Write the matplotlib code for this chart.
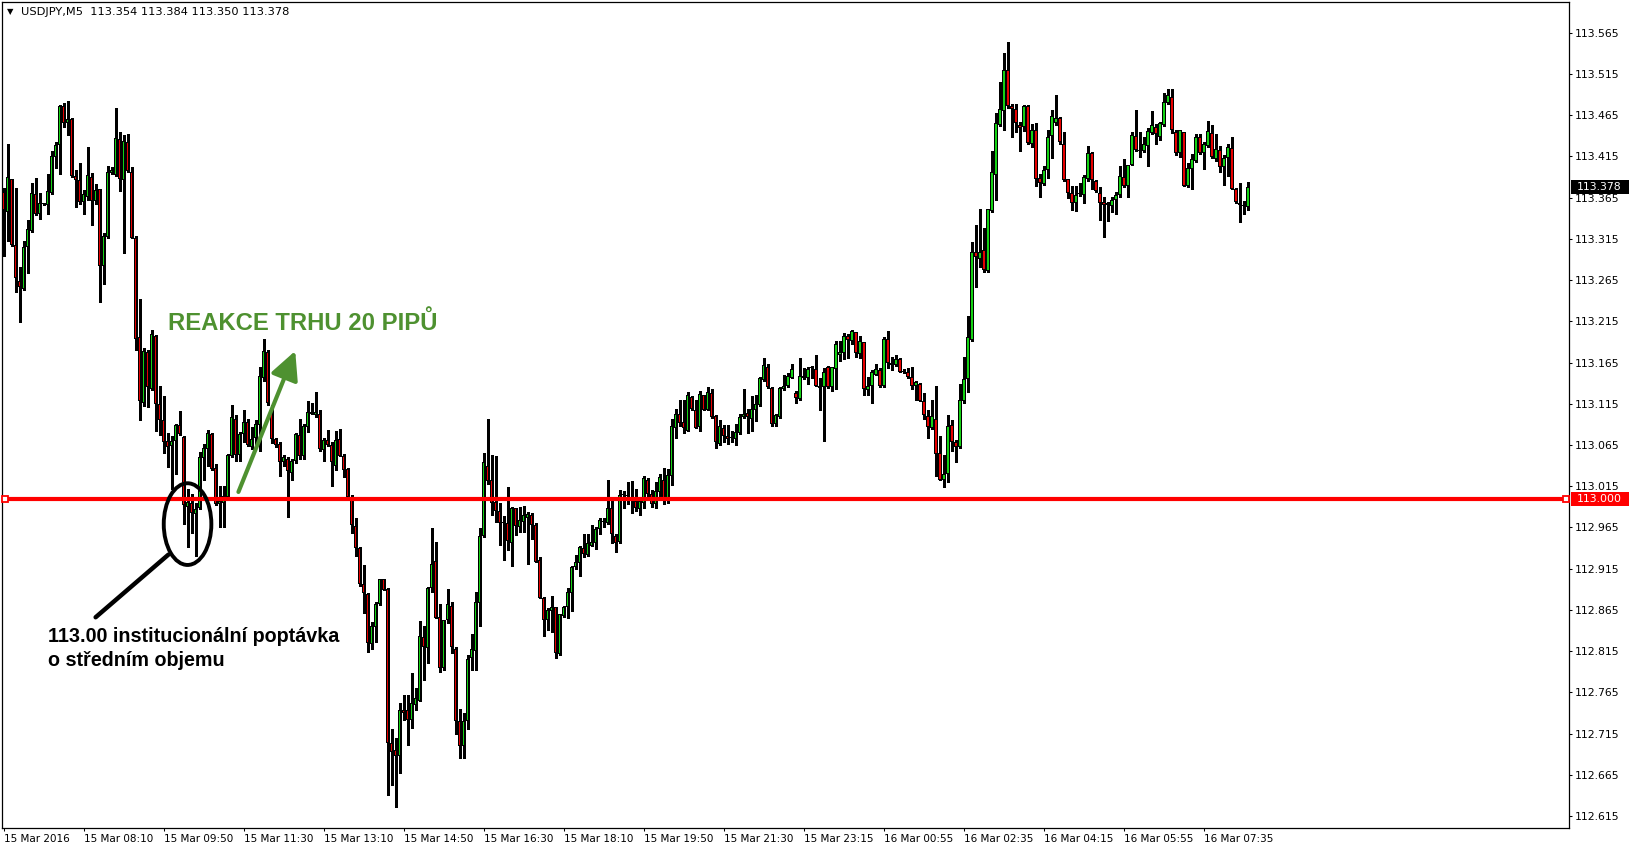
import numpy as np
import matplotlib.pyplot as plt
from matplotlib.patches import Ellipse, Rectangle
from matplotlib.transforms import blended_transform_factory

# USDJPY M5 candles, 15 Mar 2016 06:30 -> 16 Mar 2016

open_ = [
    113.372, 113.347, 113.387, 113.307, 113.264, 113.254, 113.305, 113.324, 113.369, 113.345,
    113.357, 113.356, 113.370, 113.414, 113.429, 113.476, 113.455, 113.460, 113.391, 113.386,
    113.360, 113.366, 113.390, 113.361, 113.375, 113.282, 113.317, 113.395, 113.392, 113.436,
    113.386, 113.432, 113.396, 113.316, 113.196, 113.116, 113.178, 113.133, 113.197, 113.115,
    113.095, 113.070, 113.064, 113.070, 113.089, 113.075, 112.990, 112.994, 112.981, 112.988,
    113.049, 113.060, 113.078, 113.037, 112.993, 112.994, 113.002, 113.051, 113.096, 113.053,
    113.078, 113.093, 113.062, 113.073, 113.089, 113.146, 113.178, 113.106, 113.072, 113.066,
    113.044, 113.048, 113.031, 113.045, 113.077, 113.052, 113.087, 113.103, 113.101, 113.103,
    113.059, 113.071, 113.065, 113.040, 113.072, 113.052, 113.036, 113.002, 112.967, 112.940,
    112.896, 112.884, 112.824, 112.844, 112.872, 112.902, 112.890, 112.703, 112.695, 112.688,
    112.743, 112.743, 112.731, 112.750, 112.755, 112.832, 112.819, 112.891, 112.924, 112.856,
    112.794, 112.853, 112.870, 112.818, 112.730, 112.700, 112.730, 112.806, 112.815, 112.873,
    112.955, 113.040, 113.023, 112.996, 112.985, 112.972, 112.970, 112.946, 112.989, 112.965,
    112.972, 112.976, 112.980, 112.968, 112.926, 112.879, 112.853, 112.864, 112.868, 112.811,
    112.857, 112.868, 112.885, 112.917, 112.922, 112.940, 112.932, 112.943, 112.946, 112.963,
    112.972, 112.970, 112.989, 112.955, 112.947, 113.005, 113.004, 113.002, 112.997, 112.987,
    112.995, 113.023, 113.006, 112.993, 113.008, 113.023, 112.997, 113.027, 113.086, 113.103,
    113.093, 113.082, 113.123, 113.107, 113.087, 113.125, 113.107, 113.128, 113.100, 113.066,
    113.086, 113.076, 113.074, 113.072, 113.079, 113.099, 113.104, 113.097, 113.107, 113.113,
    113.144, 113.159, 113.134, 113.090, 113.099, 113.133, 113.136, 113.146, 113.128, 113.121,
    113.149, 113.146, 113.158, 113.157, 113.137, 113.135, 113.159, 113.135, 113.157, 113.174,
    113.177, 113.197, 113.191, 113.202, 113.175, 113.190, 113.132, 113.137, 113.150, 113.156,
    113.136, 113.193, 113.165, 113.162, 113.169, 113.154, 113.154, 113.147, 113.137, 113.139,
    113.118, 113.100, 113.085, 113.097, 113.055, 113.023, 113.030, 113.089, 113.068, 113.063,
    113.118, 113.145, 113.192, 113.299, 113.291, 113.301, 113.276, 113.349, 113.393, 113.453,
    113.470, 113.520, 113.476, 113.472, 113.453, 113.451, 113.476, 113.430, 113.447, 113.389,
    113.381, 113.398, 113.440, 113.456, 113.462, 113.430, 113.387, 113.370, 113.359, 113.370,
    113.368, 113.387, 113.419, 113.385, 113.371, 113.360, 113.358, 113.355, 113.362, 113.368,
    113.390, 113.379, 113.404, 113.440, 113.422, 113.421, 113.427, 113.443, 113.451, 113.439,
    113.453, 113.480, 113.487, 113.445, 113.419, 113.445, 113.379, 113.400, 113.409, 113.438,
    113.419, 113.427, 113.443, 113.412, 113.423, 113.402, 113.413, 113.425, 113.375, 113.358,
    113.356, 113.354,
]

high = [
    113.377, 113.430, 113.388, 113.377, 113.281, 113.312, 113.338, 113.383, 113.389, 113.370,
    113.359, 113.394, 113.421, 113.432, 113.477, 113.480, 113.482, 113.461, 113.398, 113.407,
    113.374, 113.426, 113.395, 113.382, 113.376, 113.322, 113.403, 113.402, 113.474, 113.444,
    113.441, 113.442, 113.402, 113.319, 113.242, 113.183, 113.180, 113.204, 113.198, 113.136,
    113.124, 113.080, 113.076, 113.091, 113.106, 113.076, 113.012, 113.006, 112.994, 113.057,
    113.066, 113.083, 113.080, 113.042, 113.015, 113.015, 113.054, 113.114, 113.101, 113.081,
    113.108, 113.096, 113.087, 113.095, 113.160, 113.194, 113.180, 113.114, 113.074, 113.069,
    113.053, 113.050, 113.048, 113.079, 113.097, 113.091, 113.118, 113.116, 113.129, 113.107,
    113.073, 113.083, 113.068, 113.082, 113.084, 113.054, 113.037, 113.004, 112.977, 112.941,
    112.919, 112.885, 112.850, 112.875, 112.903, 112.903, 112.891, 112.720, 112.710, 112.752,
    112.762, 112.762, 112.789, 112.770, 112.851, 112.845, 112.893, 112.964, 112.947, 112.872,
    112.853, 112.890, 112.874, 112.820, 112.745, 112.740, 112.810, 112.836, 112.887, 112.964,
    113.055, 113.096, 113.053, 113.052, 112.995, 112.979, 113.014, 112.990, 112.989, 112.990,
    112.991, 112.984, 112.982, 112.970, 112.929, 112.881, 112.867, 112.882, 112.869, 112.860,
    112.870, 112.891, 112.918, 112.932, 112.943, 112.957, 112.957, 112.968, 112.966, 112.977,
    112.976, 113.023, 112.998, 112.957, 113.010, 113.009, 113.020, 113.021, 113.011, 113.000,
    113.027, 113.025, 113.010, 113.020, 113.030, 113.037, 113.036, 113.097, 113.109, 113.120,
    113.120, 113.129, 113.124, 113.120, 113.130, 113.126, 113.135, 113.133, 113.101, 113.095,
    113.089, 113.089, 113.082, 113.090, 113.102, 113.133, 113.109, 113.124, 113.125, 113.147,
    113.171, 113.163, 113.135, 113.102, 113.135, 113.150, 113.152, 113.163, 113.130, 113.170,
    113.158, 113.159, 113.161, 113.174, 113.146, 113.158, 113.161, 113.160, 113.191, 113.191,
    113.201, 113.200, 113.205, 113.202, 113.197, 113.190, 113.147, 113.156, 113.163, 113.158,
    113.196, 113.203, 113.172, 113.174, 113.171, 113.157, 113.158, 113.159, 113.142, 113.140,
    113.128, 113.107, 113.120, 113.137, 113.076, 113.053, 113.101, 113.095, 113.071, 113.139,
    113.172, 113.222, 113.311, 113.332, 113.351, 113.328, 113.351, 113.421, 113.468, 113.505,
    113.540, 113.554, 113.479, 113.479, 113.457, 113.477, 113.477, 113.454, 113.455, 113.394,
    113.403, 113.447, 113.471, 113.490, 113.463, 113.445, 113.388, 113.379, 113.379, 113.383,
    113.392, 113.428, 113.420, 113.386, 113.378, 113.366, 113.360, 113.366, 113.372, 113.403,
    113.412, 113.405, 113.445, 113.471, 113.445, 113.438, 113.449, 113.470, 113.454, 113.457,
    113.492, 113.497, 113.497, 113.447, 113.447, 113.445, 113.407, 113.418, 113.442, 113.442,
    113.432, 113.458, 113.453, 113.442, 113.428, 113.417, 113.430, 113.438, 113.377, 113.383,
    113.361, 113.384,
]

low = [
    113.294, 113.312, 113.306, 113.250, 113.214, 113.253, 113.273, 113.323, 113.344, 113.339,
    113.356, 113.345, 113.369, 113.401, 113.394, 113.451, 113.441, 113.390, 113.354, 113.357,
    113.345, 113.362, 113.332, 113.357, 113.238, 113.260, 113.316, 113.394, 113.391, 113.373,
    113.298, 113.396, 113.316, 113.180, 113.095, 113.112, 113.111, 113.132, 113.082, 113.077,
    113.055, 113.038, 113.011, 113.030, 113.077, 112.969, 112.941, 112.958, 112.930, 112.987,
    113.023, 113.040, 113.035, 112.992, 112.965, 112.966, 113.001, 113.050, 113.045, 113.046,
    113.069, 113.064, 113.060, 113.062, 113.058, 113.143, 113.114, 113.067, 113.062, 113.027,
    113.040, 112.978, 113.023, 113.043, 113.048, 113.048, 113.081, 113.103, 113.099, 113.058,
    113.045, 113.064, 113.015, 113.035, 113.051, 113.026, 113.001, 112.958, 112.930, 112.894,
    112.861, 112.814, 112.817, 112.826, 112.871, 112.889, 112.640, 112.652, 112.626, 112.667,
    112.731, 112.701, 112.722, 112.744, 112.754, 112.780, 112.800, 112.887, 112.855, 112.790,
    112.792, 112.849, 112.813, 112.715, 112.685, 112.685, 112.720, 112.792, 112.792, 112.845,
    112.953, 113.018, 112.980, 112.972, 112.944, 112.925, 112.937, 112.918, 112.956, 112.959,
    112.960, 112.921, 112.951, 112.923, 112.879, 112.833, 112.841, 112.838, 112.807, 112.810,
    112.856, 112.855, 112.863, 112.914, 112.906, 112.929, 112.930, 112.942, 112.939, 112.957,
    112.966, 112.969, 112.946, 112.935, 112.946, 112.989, 112.993, 112.983, 112.985, 112.980,
    112.988, 113.003, 112.990, 112.989, 113.000, 112.993, 112.994, 113.017, 113.073, 113.088,
    113.079, 113.082, 113.107, 113.086, 113.082, 113.107, 113.107, 113.098, 113.061, 113.065,
    113.068, 113.066, 113.068, 113.065, 113.078, 113.098, 113.080, 113.082, 113.094, 113.112,
    113.143, 113.134, 113.088, 113.088, 113.098, 113.132, 113.135, 113.146, 113.116, 113.120,
    113.145, 113.139, 113.146, 113.137, 113.108, 113.070, 113.134, 113.130, 113.133, 113.167,
    113.169, 113.171, 113.188, 113.172, 113.171, 113.126, 113.126, 113.116, 113.150, 113.135,
    113.135, 113.158, 113.156, 113.161, 113.153, 113.152, 113.146, 113.133, 113.119, 113.118,
    113.096, 113.074, 113.084, 113.027, 113.022, 113.014, 113.020, 113.058, 113.044, 113.061,
    113.116, 113.129, 113.191, 113.257, 113.281, 113.275, 113.275, 113.348, 113.362, 113.452,
    113.447, 113.474, 113.439, 113.445, 113.421, 113.446, 113.430, 113.426, 113.379, 113.366,
    113.380, 113.389, 113.413, 113.453, 113.430, 113.385, 113.364, 113.350, 113.349, 113.367,
    113.358, 113.385, 113.375, 113.372, 113.338, 113.317, 113.337, 113.347, 113.345, 113.366,
    113.378, 113.366, 113.404, 113.422, 113.414, 113.420, 113.403, 113.442, 113.430, 113.435,
    113.452, 113.479, 113.443, 113.417, 113.414, 113.379, 113.378, 113.376, 113.408, 113.418,
    113.400, 113.426, 113.413, 113.410, 113.396, 113.380, 113.391, 113.375, 113.359, 113.335,
    113.345, 113.350,
]

close = [
    113.350, 113.390, 113.307, 113.267, 113.256, 113.305, 113.327, 113.370, 113.345, 113.359,
    113.357, 113.373, 113.416, 113.429, 113.476, 113.456, 113.460, 113.391, 113.386, 113.360,
    113.369, 113.392, 113.361, 113.374, 113.282, 113.319, 113.396, 113.399, 113.437, 113.387,
    113.434, 113.397, 113.316, 113.194, 113.118, 113.179, 113.135, 113.199, 113.115, 113.095,
    113.069, 113.062, 113.070, 113.089, 113.078, 112.992, 112.996, 112.982, 112.987, 113.050,
    113.061, 113.080, 113.036, 112.993, 112.997, 113.003, 113.053, 113.099, 113.053, 113.078,
    113.093, 113.065, 113.072, 113.091, 113.149, 113.179, 113.116, 113.072, 113.065, 113.044,
    113.050, 113.033, 113.045, 113.078, 113.051, 113.088, 113.105, 113.105, 113.105, 113.060,
    113.071, 113.065, 113.044, 113.071, 113.052, 113.035, 113.002, 112.968, 112.940, 112.896,
    112.886, 112.825, 112.845, 112.872, 112.902, 112.889, 112.703, 112.693, 112.688, 112.743,
    112.740, 112.731, 112.752, 112.758, 112.833, 112.820, 112.891, 112.921, 112.855, 112.794,
    112.853, 112.872, 112.820, 112.730, 112.700, 112.730, 112.805, 112.817, 112.874, 112.955,
    113.044, 113.021, 112.994, 112.985, 112.970, 112.970, 112.948, 112.989, 112.967, 112.974,
    112.980, 112.981, 112.968, 112.923, 112.879, 112.853, 112.865, 112.868, 112.813, 112.860,
    112.868, 112.887, 112.917, 112.923, 112.941, 112.933, 112.946, 112.947, 112.963, 112.974,
    112.971, 112.989, 112.957, 112.946, 113.004, 113.004, 113.003, 112.997, 112.988, 112.997,
    113.025, 113.006, 112.993, 113.009, 113.026, 112.997, 113.028, 113.088, 113.103, 113.092,
    113.085, 113.125, 113.109, 113.086, 113.127, 113.108, 113.129, 113.099, 113.068, 113.088,
    113.076, 113.072, 113.073, 113.081, 113.099, 113.103, 113.099, 113.109, 113.115, 113.146,
    113.162, 113.135, 113.091, 113.101, 113.134, 113.137, 113.149, 113.157, 113.122, 113.149,
    113.146, 113.157, 113.159, 113.137, 113.134, 113.154, 113.135, 113.159, 113.188, 113.178,
    113.197, 113.192, 113.203, 113.176, 113.191, 113.133, 113.137, 113.154, 113.157, 113.136,
    113.193, 113.164, 113.162, 113.169, 113.154, 113.153, 113.148, 113.137, 113.141, 113.118,
    113.101, 113.087, 113.100, 113.054, 113.023, 113.030, 113.088, 113.069, 113.062, 113.120,
    113.145, 113.196, 113.299, 113.293, 113.299, 113.277, 113.351, 113.396, 113.455, 113.472,
    113.520, 113.476, 113.472, 113.455, 113.450, 113.476, 113.431, 113.447, 113.388, 113.383,
    113.399, 113.438, 113.464, 113.462, 113.432, 113.386, 113.371, 113.359, 113.368, 113.369,
    113.390, 113.419, 113.386, 113.373, 113.358, 113.356, 113.356, 113.362, 113.368, 113.391,
    113.379, 113.404, 113.441, 113.423, 113.421, 113.430, 113.446, 113.453, 113.442, 113.455,
    113.481, 113.489, 113.447, 113.419, 113.447, 113.379, 113.401, 113.412, 113.438, 113.419,
    113.430, 113.446, 113.414, 113.424, 113.402, 113.413, 113.426, 113.375, 113.360, 113.356,
    113.355, 113.378,
]

time_labels = ["15 Mar 2016", "15 Mar 08:10", "15 Mar 09:50", "15 Mar 11:30",
               "15 Mar 13:10", "15 Mar 14:50", "15 Mar 16:30", "15 Mar 18:10",
               "15 Mar 19:50", "15 Mar 21:30", "15 Mar 23:15", "16 Mar 00:55",
               "16 Mar 02:35", "16 Mar 04:15", "16 Mar 05:55", "16 Mar 07:35"]
label_every = 20  # one time label every 20 bars

price_ticks = [112.615 + 0.05 * k for k in range(20)]
level = 113.000
symbol = "USDJPY,M5"

# styling
bull = "#14d214"
bear = "#e60000"
note_green = "#4e9130"
W, H = 1629, 852
px = 1 / 824.6  # one pixel in price units

plt.rcParams["font.family"] = "DejaVu Sans"

o = np.array(open_)
h = np.array(high)
l = np.array(low)
c = np.array(close)
idx = np.arange(len(o))

fig = plt.figure(figsize=(W / 100, H / 100), dpi=100)
ax = fig.add_axes([2.3 / W, 1 - 828 / H, 1567 / W, 825.7 / H])

# candles: wick, black body frame, coloured core
ax.vlines(idx, l, h, color="black", lw=0.75, zorder=2, antialiased=False)
body_low = np.minimum(o, c)
body_h = np.maximum(np.abs(c - o), px)
ax.bar(idx, body_h, bottom=body_low, width=0.85, color="black", linewidth=0,
       zorder=3, antialiased=False)
cols = np.where(c >= o, bull, bear)
core_h = np.clip(body_h - 2 * px, 0, None)
ax.bar(idx, core_h, bottom=body_low + px, width=0.42, color=cols, linewidth=0,
       zorder=4, antialiased=False)

ax.set_xlim(-0.33, 391.4)
ax.set_ylim(112.6004, 113.6019)

# axes look
for s in ax.spines.values():
    s.set_linewidth(0.9)
    s.set_color("black")

ax.yaxis.tick_right()
ax.set_yticks(price_ticks)
ax.set_yticklabels([f"{p:.3f}" for p in price_ticks])
ax.tick_params(axis="y", direction="out", length=2.2, width=0.75, pad=1.8,
               labelsize=7.8, colors="black")

xt = list(range(0, label_every * len(time_labels), label_every))
ax.set_xticks(xt)
ax.set_xticklabels(time_labels, ha="left")
ax.tick_params(axis="x", direction="out", length=2.4, width=0.75, pad=2,
               labelsize=7.5, colors="black")

# 113.000 level
ax.axhline(level, color="red", lw=3.0, zorder=5)
ax.plot([0.002, 0.998], [level, level], ls="none", marker="s", ms=4, mfc="white",
        mec="red", mew=1.3, transform=ax.get_yaxis_transform(), zorder=6, clip_on=False)

# price boxes on the right scale
bt = blended_transform_factory(fig.transFigure, ax.transData)
for val, fc in [(level, "red"), (close[-1], "black")]:
    ax.add_patch(Rectangle((1571 / W, val - 7 * px), 58 / W, 14 * px, transform=bt,
                           facecolor=fc, edgecolor="none", clip_on=False, zorder=7))
    ax.text(1576.5 / W, val, f"{val:.3f}", transform=bt, color="white", fontsize=7.8,
            va="center", ha="left", zorder=8, clip_on=False)

# header
fig.text(7 / W, 1 - 12 / H, "\u25bc", fontsize=6, va="center", ha="left")
fig.text(21 / W, 1 - 12.3 / H,
         f"{symbol}  {open_[-1]:.3f} {high[-1]:.3f} {low[-1]:.3f} {close[-1]:.3f}",
         fontsize=8.2, va="center", ha="left")

# annotations
ax.annotate("", xy=(72.9, 113.179), xytext=(58.7, 113.008),
            arrowprops=dict(arrowstyle="-|>,head_length=0.4,head_width=0.2", lw=3,
                            color=note_green, mutation_scale=43, shrinkA=0, shrinkB=0),
            zorder=9)
ax.text(41.2, 113.205, "REAKCE TRHU 20 PIPŮ", color=note_green, fontsize=17.2,
        fontweight="bold", family="Liberation Sans", va="baseline", ha="left", zorder=9)

ax.add_patch(Ellipse((45.98, 112.969), 11.9, 0.0991, fill=False, edgecolor="black",
                     lw=2.8, zorder=9))
ax.plot([23.0, 41.2], [112.856, 112.932], color="black", lw=3.2,
        solid_capstyle="round", zorder=9)
ax.text(11.2, 112.826, "113.00 institucionální poptávka", color="black", fontsize=14.2,
        fontweight="bold", family="Liberation Sans", va="baseline", ha="left", zorder=9)
ax.text(11.2, 112.797, "o středním objemu", color="black", fontsize=14.2,
        fontweight="bold", family="Liberation Sans", va="baseline", ha="left", zorder=9)

fig.savefig("out.png", dpi=100, facecolor="white")
